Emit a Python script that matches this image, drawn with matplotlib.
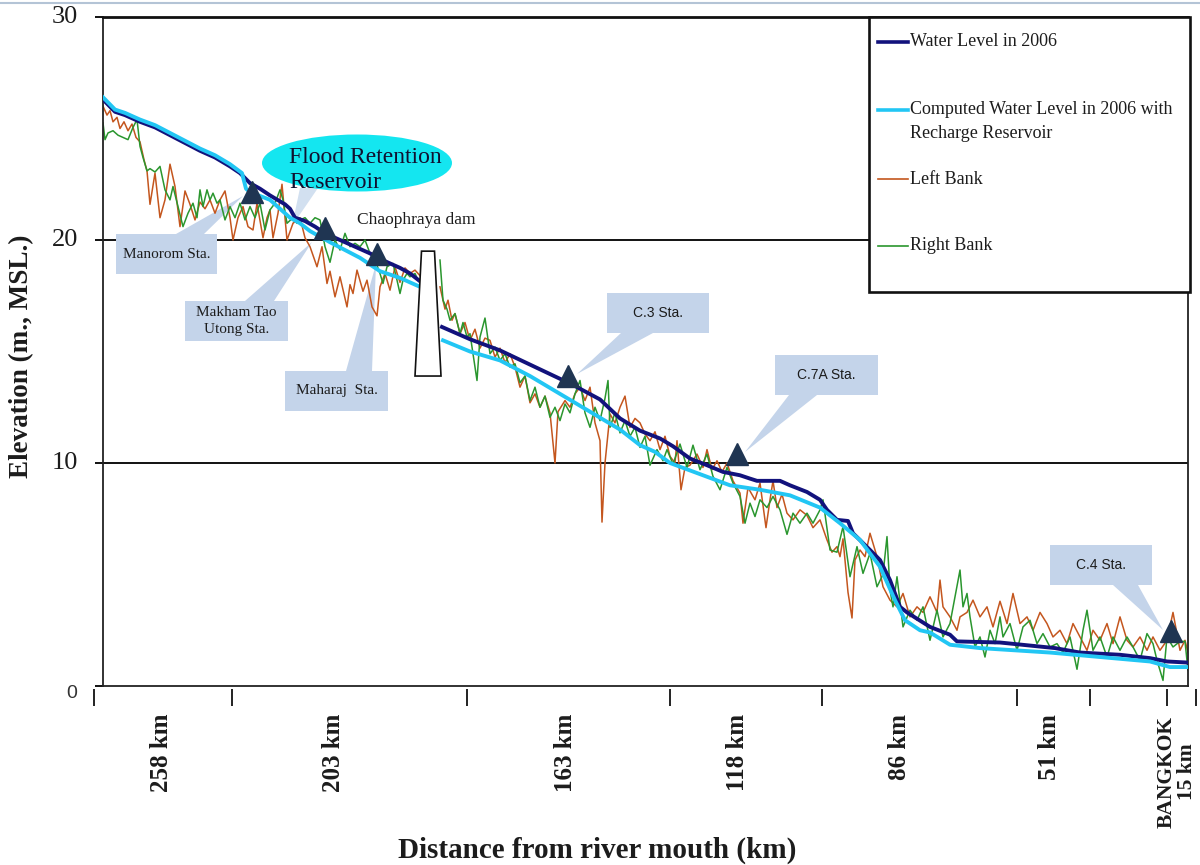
import matplotlib.pyplot as plt
import matplotlib.transforms as mtransforms
import numpy as np
from matplotlib.lines import Line2D
from matplotlib.patches import Ellipse, Polygon, Rectangle

W, H = 1200, 865
nan = np.nan

# (chart position along the river, elevation m MSL), upstream -> downstream
wl_2006 = [
    (103, 26.3), (115, 25.75), (125, 25.6), (140, 25.3), (155, 25.05), (170, 24.7),
    (185, 24.35), (200, 24.0), (215, 23.7), (230, 23.3), (240, 23.0), (250, 22.55),
    (260, 22.3), (270, 22.0), (285, 21.6), (290, 21.4), (295, 21.0), (305, 20.85),
    (315, 20.6), (325, 20.3), (340, 20.0), (355, 19.7), (370, 19.4), (385, 19.05),
    (400, 18.75), (410, 18.5), (420, 18.15), (431, nan), (442, 16.1), (470, 15.55),
    (500, 15.05), (540, 14.2), (573, 13.5), (600, 12.85), (620, 12.0), (640, 11.45),
    (660, 11.1), (673, 10.75), (690, 10.2), (707, 9.9), (723, 9.6), (740, 9.45),
    (750, 9.3), (757, 9.2), (780, 9.2), (790, 9.0), (807, 8.7), (820, 8.35),
    (827, 7.9), (837, 7.45), (848, 7.4), (853, 6.85), (870, 6.1), (880, 5.65),
    (890, 4.75), (900, 3.55), (907, 3.3), (930, 2.65), (950, 2.3), (957, 2.0),
    (1000, 1.95), (1033, 1.8), (1055, 1.7), (1080, 1.5), (1120, 1.4), (1150, 1.25),
    (1167, 1.1), (1188, 1.05)]

wl_reservoir = [
    (103, 26.4), (115, 25.85), (125, 25.7), (140, 25.4), (155, 25.15), (170, 24.8),
    (185, 24.45), (200, 24.1), (215, 23.8), (230, 23.4), (242, 23.0), (246, 22.3),
    (250, 22.15), (270, 21.8), (290, 21.0), (300, 20.75), (310, 20.4), (330, 19.9),
    (360, 19.2), (380, 18.6), (400, 18.3), (420, 17.9), (431, nan), (443, 15.5),
    (470, 15.0), (500, 14.6), (530, 13.9), (560, 13.1), (590, 12.3), (620, 11.5),
    (640, 10.8), (655, 10.5), (670, 10.0), (700, 9.5), (730, 9.0), (760, 8.8),
    (790, 8.55), (820, 8.0), (840, 7.3), (860, 6.55), (880, 5.35), (895, 3.85),
    (905, 2.95), (920, 2.5), (930, 2.4), (950, 1.85), (980, 1.7), (1050, 1.5),
    (1100, 1.3), (1150, 1.1), (1170, 0.85), (1188, 0.85)]

left_bank = [
    (103, 26.0), (107, 25.6), (110, 25.8), (113, 25.3), (117, 25.5), (120, 25.0),
    (124, 25.3), (128, 24.9), (132, 25.2), (136, 24.6), (140, 24.4), (144, 23.6),
    (147, 23.1), (150, 21.6), (155, 23.0), (160, 21.0), (165, 21.8), (170, 23.4),
    (175, 22.4), (180, 20.6), (185, 22.2), (190, 21.6), (195, 20.9), (200, 21.7),
    (205, 21.4), (210, 21.8), (215, 21.2), (220, 21.8), (225, 22.2), (230, 21.0),
    (233, 20.0), (238, 21.0), (243, 21.5), (248, 20.6), (253, 20.45), (257, 21.65),
    (263, 20.1), (267, 21.0), (270, 21.35), (273, 20.1), (278, 21.2), (282, 22.5),
    (287, 20.0), (293, 20.75), (300, 21.0), (305, 20.1), (310, 19.7), (317, 18.8),
    (322, 19.7), (327, 18.05), (330, 18.6), (335, 17.45), (340, 18.35), (347, 17.0),
    (350, 18.0), (353, 17.6), (357, 18.65), (363, 17.7), (367, 18.2), (372, 17.0),
    (377, 16.6), (380, 17.9), (385, 18.5), (390, 17.75), (395, 18.8), (400, 18.1),
    (405, 18.75), (410, 18.5), (415, 18.65), (420, 18.4), (431, nan),
    (440, 17.9), (445, 16.9), (448, 17.3), (452, 16.4), (455, 16.7), (460, 15.8),
    (465, 16.3), (470, 15.5), (475, 16.0), (480, 15.15), (485, 15.6), (490, 15.5),
    (495, 14.75), (500, 15.15), (505, 14.5), (510, 14.9), (515, 14.3), (520, 13.4),
    (525, 13.9), (530, 12.7), (535, 13.1), (540, 12.5), (545, 13.0), (550, 12.25),
    (555, 10.0), (558, 12.3), (565, 12.8), (570, 12.5), (575, 13.1), (580, 13.4),
    (585, 12.8), (590, 13.4), (595, 11.8), (600, 11.0), (602, 7.35), (605, 10.0),
    (610, 12.2), (615, 11.8), (620, 12.5), (625, 13.0), (630, 11.6), (635, 12.0),
    (640, 11.8), (645, 11.3), (650, 11.0), (655, 11.4), (660, 10.6), (665, 11.2),
    (670, 10.3), (675, 10.0), (677, 11.0), (681, 8.8), (685, 9.8), (690, 9.9),
    (697, 10.4), (703, 9.8), (707, 10.6), (712, 9.7), (717, 10.1), (722, 9.6),
    (727, 10.0), (733, 9.2), (740, 8.65), (743, 7.3), (748, 8.9), (755, 8.35),
    (760, 9.1), (766, 7.1), (770, 8.35), (773, 9.2), (777, 8.0), (782, 8.6),
    (787, 7.75), (793, 7.45), (800, 7.9), (807, 7.65), (813, 7.1), (820, 7.45),
    (827, 6.55), (832, 6.0), (837, 6.25), (840, 5.8), (843, 6.6), (848, 4.2),
    (852, 3.05), (855, 5.65), (860, 6.1), (865, 5.8), (870, 6.85), (877, 5.8),
    (883, 4.45), (890, 3.85), (897, 3.55), (903, 4.15), (910, 3.1), (917, 3.55),
    (923, 3.3), (930, 4.0), (937, 3.3), (940, 4.75), (943, 3.55), (950, 3.1),
    (957, 2.5), (960, 3.1), (967, 3.3), (973, 3.85), (980, 3.1), (987, 3.55),
    (993, 2.65), (1000, 3.8), (1007, 2.8), (1013, 4.15), (1020, 2.8), (1027, 3.1),
    (1033, 2.5), (1040, 3.3), (1047, 2.8), (1053, 2.2), (1060, 2.5), (1067, 1.9),
    (1073, 2.8), (1080, 2.2), (1087, 1.6), (1093, 2.5), (1100, 2.05), (1107, 2.8),
    (1113, 1.9), (1120, 3.1), (1127, 2.05), (1133, 1.75), (1140, 2.2), (1147, 1.6),
    (1153, 2.2), (1160, 1.6), (1167, 2.05), (1173, 3.3), (1180, 1.6), (1185, 2.05),
    (1188, 1.5)]

right_bank = [
    (103, 25.25), (105, 24.5), (108, 24.8), (113, 24.9), (118, 24.7), (123, 24.6),
    (128, 24.5), (133, 25.05), (137, 25.4), (140, 24.2), (143, 23.7), (147, 23.1),
    (150, 23.2), (155, 23.05), (160, 23.3), (165, 22.25), (170, 21.8), (173, 22.4),
    (178, 21.5), (183, 20.6), (188, 21.2), (193, 21.65), (197, 21.0), (200, 22.25),
    (203, 21.5), (207, 22.25), (210, 21.8), (213, 22.1), (217, 21.65), (220, 21.8),
    (225, 20.9), (230, 21.5), (235, 21.0), (240, 21.65), (245, 20.9), (250, 21.5),
    (255, 21.0), (260, 21.65), (265, 20.45), (270, 21.35), (275, 21.65), (280, 22.25),
    (283, 21.8), (287, 20.75), (293, 21.0), (297, 20.75), (300, 20.9), (305, 21.0),
    (310, 20.75), (315, 21.0), (320, 20.9), (325, 19.7), (330, 19.0), (335, 20.0),
    (340, 19.55), (345, 20.3), (350, 19.7), (355, 19.85), (360, 19.7), (365, 20.0),
    (370, 19.4), (375, 19.1), (380, 18.5), (383, 18.05), (387, 18.8), (393, 18.95),
    (397, 18.2), (400, 17.6), (403, 18.2), (407, 18.5), (410, 18.35), (415, 18.5),
    (418, 18.2), (431, nan),
    (440, 19.1), (443, 17.3), (447, 16.9), (450, 16.4), (455, 16.7), (460, 15.8),
    (463, 16.3), (467, 15.65), (470, 15.8), (477, 13.7), (480, 15.65), (485, 16.5),
    (490, 14.9), (495, 15.2), (500, 14.6), (505, 14.9), (510, 14.3), (515, 14.45),
    (520, 13.6), (525, 13.9), (530, 12.8), (535, 13.4), (540, 12.5), (545, 13.0),
    (550, 12.05), (555, 12.5), (560, 11.9), (565, 12.65), (570, 12.25), (575, 13.1),
    (580, 13.7), (585, 12.25), (590, 11.6), (595, 12.5), (600, 11.9), (605, 12.9),
    (608, 13.7), (610, 11.6), (615, 12.25), (620, 11.35), (625, 11.9), (630, 11.2),
    (635, 11.6), (640, 10.7), (645, 11.2), (650, 9.9), (657, 10.6), (663, 10.1),
    (667, 10.6), (673, 9.95), (680, 10.85), (687, 9.8), (693, 10.8), (700, 9.7),
    (707, 10.4), (713, 9.4), (720, 8.8), (727, 9.8), (733, 9.1), (740, 8.5),
    (745, 7.3), (750, 8.2), (755, 7.6), (760, 8.35), (767, 8.0), (773, 8.5),
    (780, 7.9), (787, 6.8), (793, 7.75), (800, 7.3), (807, 7.75), (813, 7.3),
    (820, 7.9), (823, 8.35), (830, 6.1), (837, 6.0), (843, 7.15), (850, 4.9),
    (857, 6.25), (863, 5.05), (870, 5.95), (877, 4.45), (883, 5.0), (887, 6.7),
    (890, 4.3), (893, 3.55), (897, 4.9), (903, 2.65), (910, 3.4), (917, 2.95),
    (923, 3.55), (930, 2.05), (937, 3.4), (943, 2.2), (950, 2.8), (955, 4.0),
    (960, 5.2), (963, 3.55), (967, 4.15), (970, 3.1), (975, 1.75), (980, 2.2),
    (985, 1.3), (990, 2.5), (995, 1.9), (1000, 3.1), (1003, 2.2), (1010, 2.8),
    (1017, 1.6), (1023, 2.65), (1030, 2.95), (1037, 1.9), (1043, 2.35), (1050, 1.75),
    (1057, 1.9), (1063, 1.5), (1070, 2.2), (1077, 0.75), (1083, 2.5), (1087, 3.4),
    (1093, 1.6), (1100, 2.2), (1107, 1.3), (1113, 2.2), (1120, 1.6), (1127, 2.2),
    (1133, 1.75), (1140, 1.15), (1147, 2.35), (1153, 1.9), (1157, 1.15), (1163, 0.25),
    (1167, 2.2), (1173, 1.75), (1180, 2.0), (1185, 2.0), (1188, 0.7)]

# gauging stations: name, chart position, elevation
sta_names = ['Manorom Sta.', 'Makham Tao\nUtong Sta.', 'Maharaj  Sta.',
             'C.3 Sta.', 'C.7A Sta.', 'C.4 Sta.']
sta_pos = [252, 325, 377, 568, 737, 1171]
sta_z = [22.15, 20.55, 19.35, 13.9, 10.4, 2.45]

# Chaophraya dam
dam_pos = 428
dam_top, dam_bottom = 19.5, 13.9

# distance axis (category boundaries and labels)
cat_edges = [94, 232, 467, 670, 822, 1017, 1090, 1167, 1196]
cat_mid = [161, 334, 566, 738, 899, 1049]
cat_labels = ['258 km', '203 km', '163 km', '118 km', '86 km', '51 km']
mouth_label = 'BANGKOK\n15 km'

legend_items = [
    ('Water Level in 2006', '#12127c', 2.6),
    ('Computed Water Level in 2006 with', '#22c6f4', 2.6),
    ('Left Bank', '#c4561e', 1.2),
    ('Right Bank', '#2a962e', 1.2)]

SERIF = 'Liberation Serif'
SANS = 'Liberation Sans'
TXT = '#1c1c1c'
BOX = '#c4d4ea'
TRI = '#1f3552'


def fp(x, y):
    return (x / W, 1 - y / H)


fig = plt.figure(figsize=(12, 8.65), dpi=100)
fig.patch.set_facecolor('white')
ax = fig.add_axes([103 / W, 1 - 686 / H, (1188 - 103) / W, (686 - 17) / H])

for pts, c, lw, z in [(left_bank, '#c4561e', 1.1, 2), (right_bank, '#2a962e', 1.1, 2.1),
                      (wl_2006, '#12127c', 2.8, 3), (wl_reservoir, '#22c6f4', 2.8, 3.1)]:
    x, y = zip(*pts)
    ax.plot(x, y, color=c, lw=lw, zorder=z, solid_joinstyle='round')

ax.set_xlim(103, 1188)
ax.set_ylim(0, 30)
ax.set_xticks([])
ax.set_yticks([0, 10, 20, 30])
ax.set_yticklabels([])
ax.tick_params(axis='y', direction='out', length=5.5, width=1.4, color='#111')
for v in (10, 20):
    ax.axhline(v, color='#111', lw=1.4, zorder=1)
for s in ('left', 'bottom', 'right'):
    ax.spines[s].set_linewidth(1.3)
    ax.spines[s].set_color('#222')
ax.spines['top'].set_linewidth(2.0)
ax.spines['top'].set_color('#111')

# elevation labels
trans = mtransforms.blended_transform_factory(fig.transFigure, ax.transData)
for v in (10, 20, 30):
    ax.text(78 / W, v, str(v), transform=trans, ha='right', va='center',
            family=SERIF, fontsize=19, color=TXT)
ax.text(77 / W, -0.35, '0', transform=trans, ha='right', va='center',
        family=SANS, fontsize=14, color='#333')

# Chaophraya dam outline
dam = Polygon([(dam_pos - 13, dam_bottom), (dam_pos - 6.5, dam_top),
               (dam_pos + 6.5, dam_top), (dam_pos + 13, dam_bottom)],
              closed=True, fc='white', ec='#111', lw=1.2, zorder=4)
ax.add_patch(dam)

# station callouts (drawn under the profile lines)
callouts = [
    ((116, 234, 217, 274), [(176, 234), (204, 234)], (243, 196)),
    ((185, 301, 288, 341), [(245, 301), (274, 301)], (312, 242)),
    ((285, 371, 388, 411), [(346, 371), (372, 371)], (376, 264)),
    ((607, 293, 709, 333), [(621, 333), (653, 333)], (577, 374)),
    ((775, 355, 878, 395), [(789, 395), (817, 395)], (745, 452)),
    ((1050, 545, 1152, 585), [(1113, 585), (1138, 585)], (1163, 630))]
for (x0, y0, x1, y1), base, tip in callouts:
    ax.add_patch(Rectangle(fp(x0, y1), (x1 - x0) / W, (y1 - y0) / H,
                           transform=fig.transFigure, fc=BOX, ec='none',
                           clip_on=False, zorder=1.5))
    ax.add_patch(Polygon([fp(*base[0]), fp(*base[1]), fp(*tip)],
                         transform=fig.transFigure, fc=BOX, ec='none',
                         clip_on=False, zorder=1.5))

for name, (x0, y0, x1, y1) in zip(sta_names, [c[0] for c in callouts]):
    fam, fs = (SANS, 10) if name.startswith('C.') else (SERIF, 11)
    fig.text((x0 + x1) / 2 / W, 1 - (y0 + y1) / 2 / H, name, ha='center',
             va='center', family=fam, fontsize=fs, color=TXT, linespacing=1.3)

ax.plot(sta_pos, sta_z, '^', ms=16, color=TRI, zorder=5, clip_on=False)

# flood retention reservoir bubble
ax.add_patch(Polygon([fp(300, 188), fp(318, 188), fp(292, 226)],
                     transform=fig.transFigure, fc='#d2e0f0', ec='none',
                     clip_on=False, zorder=1.4))
ax.add_patch(Ellipse(fp(357, 163), 190 / W, 57 / H, transform=fig.transFigure,
                     fc='#14e6f0', ec='none', clip_on=False, zorder=1.6))
fig.text(289 / W, 1 - 170 / H, 'Flood Retention\nReservoir', ha='left',
         va='center', family=SERIF, fontsize=17, color='#101030',
         linespacing=1.3)
fig.text(357 / W, 1 - 220 / H, 'Chaophraya dam', ha='left', va='center',
         family=SERIF, fontsize=12.5, color=TXT)

# distance axis with category labels between tick marks
axc = fig.add_axes([94 / W, 1 - 689 / H, (1196 - 94) / W, 0.0001])
axc.set_xlim(94, 1196)
axc.set_yticks([])
for s in axc.spines.values():
    s.set_visible(False)
axc.set_xticks(cat_edges)
axc.set_xticklabels([])
axc.set_xticks(cat_mid, minor=True)
axc.set_xticklabels(cat_labels, minor=True, rotation=90, family=SERIF,
                    fontsize=18, fontweight='bold', color=TXT)
axc.tick_params(axis='x', which='major', direction='out', length=12.5,
                width=1.4, color='#222')
axc.tick_params(axis='x', which='minor', length=0, pad=18)
axc.patch.set_visible(False)
fig.text(1177 / W, 1 - 716 / H, mouth_label, rotation=90, ha='center',
         va='top', family=SERIF, fontsize=15.5, fontweight='bold', color=TXT,
         linespacing=1.05)

fig.text(22 / W, 1 - 356 / H, 'Elevation (m., MSL.)', rotation=90,
         ha='center', va='center', family=SERIF, fontsize=19.5,
         fontweight='bold', color=TXT)
fig.text(597 / W, 1 - 850 / H, 'Distance from river mouth (km)', ha='center',
         va='center', family=SERIF, fontsize=21, fontweight='bold', color=TXT)

# legend panel
fig.add_artist(Rectangle(fp(869, 292), (1190 - 869) / W, (292 - 17) / H,
                         transform=fig.transFigure, fc='white', ec='#111',
                         lw=1.9, zorder=2))
rows = [42, 110, 179, 246]
for (label, c, lw), y in zip(legend_items, rows):
    fig.add_artist(Line2D([878 / W, 908 / W], [1 - y / H] * 2, color=c, lw=lw,
                          transform=fig.transFigure, zorder=3))
    fig.text(910 / W, 1 - y / H, label, ha='left', va='center', family=SERIF,
             fontsize=13, color=TXT, zorder=4)
fig.text(910 / W, 1 - 133 / H, 'Recharge Reservoir', ha='left', va='center',
         family=SERIF, fontsize=13, color=TXT, zorder=4)

# thin page rule along the top edge
fig.add_artist(Line2D([0, 1], [1 - 3 / H] * 2, color='#b4c4d6', lw=1.5,
                      transform=fig.transFigure))

fig.savefig('out.png', dpi=100)
